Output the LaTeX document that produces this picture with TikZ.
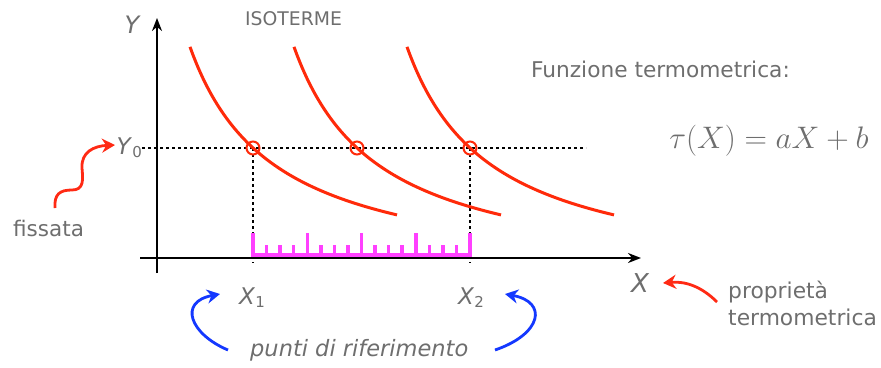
\documentclass[tikz,border=0pt]{standalone}
\usepackage{fontspec}
\setmainfont{DejaVu Sans}
\usetikzlibrary{arrows.meta}
\definecolor{txt}{HTML}{6E6E6E}
\definecolor{iso}{HTML}{FF2A0A}
\definecolor{mag}{HTML}{FF40FF}
\definecolor{hred}{HTML}{FF2A14}
\definecolor{hblue}{HTML}{1438FF}
\begin{document}
\begin{tikzpicture}[x=1pt,y=-1pt,
  lbl/.style={text=txt, inner sep=0pt},
  axisline/.style={line width=2.8pt, -{Stealth[length=13pt,width=10pt]}},
  dotline/.style={line width=1.8pt, dash pattern=on 3pt off 3pt},
  isoline/.style={iso, line width=3pt},
  marker/.style={iso, line width=2pt},
  ruler/.style={mag, line width=3.5pt},
  handred/.style={hred, line width=2.8pt, -{Stealth[length=13pt,width=14pt]}},
  handblue/.style={hblue, line width=2.8pt, -{Stealth[length=13pt,width=14pt]}}]
\useasboundingbox (0,0) rectangle (881,367);
% reference points
\coordinate (ytop) at (157,18);
\coordinate (ybot) at (157,273);
\coordinate (xleft) at (140,258);
\coordinate (xright) at (641,258);
\coordinate (p1) at (253,148);
\coordinate (p2) at (357,148);
\coordinate (p3) at (470,148);
\coordinate (hl) at (142,148);
\coordinate (hr) at (586,148);
\coordinate (v1) at (253,263);
\coordinate (v2) at (470,263);
% dotted lines
\draw[dotline] (hl) -- (hr);
\draw[dotline] (p1) -- (v1);
\draw[dotline] (p3) -- (v2);
% axes
\draw[axisline] (ybot) -- (ytop);
\draw[axisline] (xleft) -- (xright);
% ruler
\draw[ruler] (253,255) -- (470,255);
\foreach \k in {0,...,4} \draw[ruler] ({253+54.25*\k},256.5) -- ({253+54.25*\k},233);
\foreach \k in {0,...,3} \foreach \j in {1,2,3}
  \draw[ruler] ({253+54.25*\k+13.5625*\j},256.5) -- ({253+54.25*\k+13.5625*\j},245);
% isotherms
\foreach \s in {0,104,217}
  \draw[isoline, domain={190+\s}:{397+\s}, samples=80, smooth]
    plot (\x, {283.6 - 200.19/((\x-105.4-\s)*0.01)});
\draw[marker] (p1) circle (6.5pt);
\draw[marker] (p2) circle (6.5pt);
\draw[marker] (p3) circle (6.5pt);
% labels
\node[lbl, anchor=base, font=\fontsize{24}{24}\selectfont\itshape] (Ylab) at (132,33) {Y};
\node[lbl, anchor=base, font=\fontsize{26}{26}\selectfont\itshape] (Xlab) at (640,292) {X};
\node[lbl, anchor=base east, font=\fontsize{23}{23}\selectfont] (Y0) at (142,154) {\textit{Y}\raisebox{-0.25ex}{\fontsize{15}{15}\selectfont 0}};
\node[lbl, anchor=base, font=\fontsize{23}{23}\selectfont] (X1) at (252,304) {\textit{X}\raisebox{-0.25ex}{\fontsize{15}{15}\selectfont 1}};
\node[lbl, anchor=base, font=\fontsize{23}{23}\selectfont] (X2) at (471,304) {\textit{X}\raisebox{-0.25ex}{\fontsize{15}{15}\selectfont 2}};
\node[lbl, anchor=base west, font=\fontsize{18.8}{20}\selectfont] (iso) at (245,25) {ISOTERME};
\node[lbl, anchor=base east, font=\fontsize{21.7}{24}\selectfont] (fun) at (790,77) {Funzione termometrica:};
\node[lbl, anchor=base, scale=1.5, font=\fontsize{20}{20}\selectfont] (form) at (769,148) {$\tau(X) = aX + b$};
\node[lbl, anchor=base west, font=\fontsize{21.5}{24}\selectfont] (fis) at (13,236) {fissata};
\node[lbl, anchor=base west, font=\fontsize{22.5}{24}\selectfont\itshape] (punti) at (250,356) {punti di riferimento};
\node[lbl, anchor=base west, align=left, font=\fontsize{21.8}{27}\selectfont] (prop) at (728,325) {proprietà\\termometrica};
% hand-drawn arrows
\coordinate (fs) at (55,208);
\coordinate (ft) at (115,145);
\draw[handred] (fs) .. controls (54,194) and (60,190) .. (72,190) .. controls (84,190) and (83,180) .. (82,168) .. controls (81,152) and (94,146) .. (ft);
\coordinate (ps) at (717,302);
\coordinate (pt) at (663,283);
\draw[handred] (ps) .. controls (702,287) and (686,281) .. (pt);
\coordinate (bls) at (228,350);
\coordinate (blt) at (220,294);
\draw[handblue] (bls) .. controls (190,334) and (178,302) .. (blt);
\coordinate (brs) at (495,350);
\coordinate (brt) at (505,294);
\draw[handblue] (brs) .. controls (542,334) and (548,302) .. (brt);
\end{tikzpicture}
\end{document}
